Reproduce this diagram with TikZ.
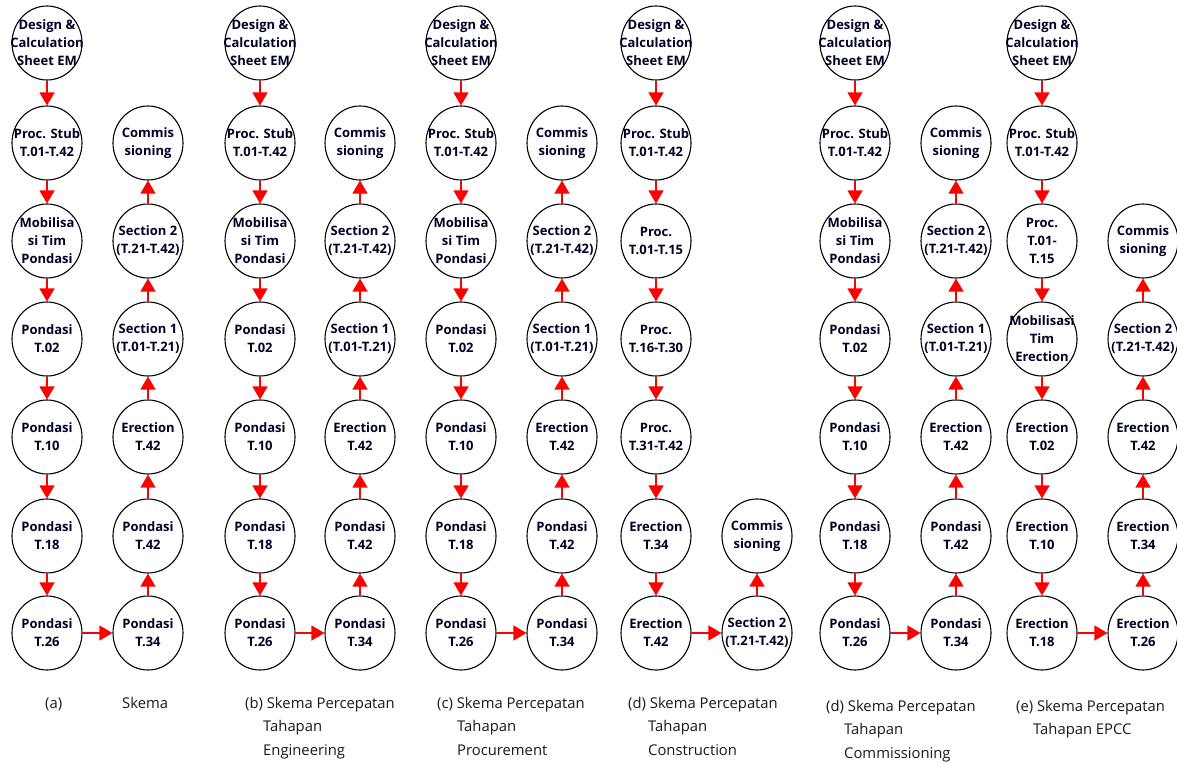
\documentclass[tikz,border=0pt]{standalone}
\usepackage{fontspec}
\setmainfont{Open Sans}
\usetikzlibrary{shapes.geometric,arrows.meta}
\tikzset{
  ell/.style={ellipse, draw=black, line width=1.1pt, minimum width=70pt, minimum height=74pt, inner sep=0pt, fill=white},
  ntxt/.style={font=\bfseries\fontsize{13}{18}\selectfont, align=center, inner sep=0pt, text=black!85!blue},
  arr/.style={draw=red, line width=1.3pt, -{Triangle[width=15pt,length=13pt]}},
  captxt/.style={font=\fontsize{14.8}{16}\selectfont, anchor=base west, inner sep=0pt, text=black!90}
}
\newcommand\mynode[4]{\node[ell] (#1) at (#2,#3) {}; \node[ntxt] (#1-t) at (#1) {#4};}
\begin{document}
\begin{tikzpicture}[x=1pt,y=-1pt]
\useasboundingbox[fill=white] (0,0) rectangle (1177,763);
% standard columns
\foreach \n/\xa/\xb in {a/47/148, b/260/360, c/461/562, e/855/956}{
  \mynode{\n-l1}{\xa}{43}{Design \&\\Calculation\\Sheet EM}
  \mynode{\n-l2}{\xa}{143}{Proc. Stub\\T.01-T.42}
  \mynode{\n-l3}{\xa}{241}{Mobilisa\\si Tim\\Pondasi}
  \mynode{\n-l4}{\xa}{339}{Pondasi\\T.02}
  \mynode{\n-l5}{\xa}{437}{Pondasi\\T.10}
  \mynode{\n-l6}{\xa}{536}{Pondasi\\T.18}
  \mynode{\n-l7}{\xa}{633}{Pondasi\\T.26}
  \mynode{\n-r1}{\xb}{143}{Commis\\sioning}
  \mynode{\n-r2}{\xb}{241}{Section 2\\(T.21-T.42)}
  \mynode{\n-r3}{\xb}{339}{Section 1\\(T.01-T.21)}
  \mynode{\n-r4}{\xb}{437}{Erection\\T.42}
  \mynode{\n-r5}{\xb}{536}{Pondasi\\T.42}
  \mynode{\n-r6}{\xb}{633}{Pondasi\\T.34}
  \draw[arr] (\n-l1) -- (\n-l2);
  \draw[arr] (\n-l2) -- (\n-l3);
  \draw[arr] (\n-l3) -- (\n-l4);
  \draw[arr] (\n-l4) -- (\n-l5);
  \draw[arr] (\n-l5) -- (\n-l6);
  \draw[arr] (\n-l6) -- (\n-l7);
  \draw[arr] (\n-l7) -- (\n-r6);
  \draw[arr] (\n-r6) -- (\n-r5);
  \draw[arr] (\n-r5) -- (\n-r4);
  \draw[arr] (\n-r4) -- (\n-r3);
  \draw[arr] (\n-r3) -- (\n-r2);
  \draw[arr] (\n-r2) -- (\n-r1);
}
% column d (construction)
\mynode{d-l1}{656}{43}{Design \&\\Calculation\\Sheet EM}
\mynode{d-l2}{656}{143}{Proc. Stub\\T.01-T.42}
\mynode{d-l3}{656}{241}{Proc.\\T.01-T.15}
\mynode{d-l4}{656}{339}{Proc.\\T.16-T.30}
\mynode{d-l5}{656}{437}{Proc.\\T.31-T.42}
\mynode{d-l6}{656}{536}{Erection\\T.34}
\mynode{d-l7}{656}{633}{Erection\\T.42}
\mynode{d-r1}{757}{536}{Commis\\sioning}
\mynode{d-r2}{757}{633}{Section 2\\(T.21-T.42)}
\draw[arr] (d-l1) -- (d-l2);
\draw[arr] (d-l2) -- (d-l3);
\draw[arr] (d-l3) -- (d-l4);
\draw[arr] (d-l4) -- (d-l5);
\draw[arr] (d-l5) -- (d-l6);
\draw[arr] (d-l6) -- (d-l7);
\draw[arr] (d-l7) -- (d-r2);
\draw[arr] (d-r2) -- (d-r1);
% column f (EPCC)
\mynode{f-l1}{1042}{43}{Design \&\\Calculation\\Sheet EM}
\mynode{f-l2}{1042}{143}{Proc. Stub\\T.01-T.42}
\mynode{f-l3}{1042}{241}{Proc.\\T.01-\\T.15}
\mynode{f-l4}{1042}{339}{Mobilisasi\\Tim\\Erection}
\mynode{f-l5}{1042}{437}{Erection\\T.02}
\mynode{f-l6}{1042}{536}{Erection\\T.10}
\mynode{f-l7}{1042}{633}{Erection\\T.18}
\mynode{f-r1}{1143}{241}{Commis\\sioning}
\mynode{f-r2}{1143}{339}{Section 2\\(T.21-T.42)}
\mynode{f-r3}{1143}{437}{Erection\\T.42}
\mynode{f-r4}{1143}{536}{Erection\\T.34}
\mynode{f-r5}{1143}{633}{Erection\\T.26}
\draw[arr] (f-l1) -- (f-l2);
\draw[arr] (f-l2) -- (f-l3);
\draw[arr] (f-l3) -- (f-l4);
\draw[arr] (f-l4) -- (f-l5);
\draw[arr] (f-l5) -- (f-l6);
\draw[arr] (f-l6) -- (f-l7);
\draw[arr] (f-l7) -- (f-r5);
\draw[arr] (f-r5) -- (f-r4);
\draw[arr] (f-r4) -- (f-r3);
\draw[arr] (f-r3) -- (f-r2);
\draw[arr] (f-r2) -- (f-r1);
% captions
\node[captxt] (capa1) at (45,708) {(a)};
\node[captxt] (capa2) at (122,708) {Skema};
\node[captxt] (capb1) at (245,708) {(b) Skema Percepatan};
\node[captxt] (capb2) at (263,731.5) {Tahapan};
\node[captxt] (capb3) at (263,755) {Engineering};
\node[captxt] (capc1) at (437,708) {(c) Skema Percepatan};
\node[captxt] (capc2) at (457,731.5) {Tahapan};
\node[captxt] (capc3) at (457,755) {Procurement};
\node[captxt] (capd1) at (628,708) {(d) Skema Percepatan};
\node[captxt] (capd2) at (648,731.5) {Tahapan};
\node[captxt] (capd3) at (648,755) {Construction};
\node[captxt] (cape1) at (826,711) {(d) Skema Percepatan};
\node[captxt] (cape2) at (844,734.5) {Tahapan};
\node[captxt] (cape3) at (844,758) {Commissioning};
\node[captxt] (capf1) at (1016,711) {(e) Skema Percepatan};
\node[captxt] (capf2) at (1033,734.5) {Tahapan EPCC};
\end{tikzpicture}
\end{document}
